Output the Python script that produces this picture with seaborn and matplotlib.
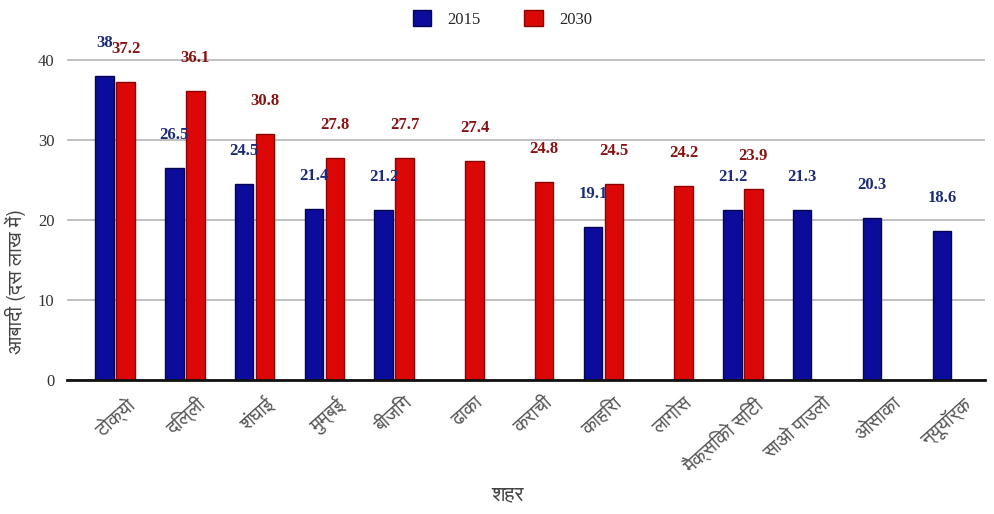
import numpy as np
import pandas as pd
import seaborn as sns
import matplotlib
matplotlib.use("Agg")
import matplotlib.pyplot as plt
from matplotlib import font_manager
from matplotlib.patches import Patch
from matplotlib.transforms import ScaledTranslation

# Cities and population (in millions) for 2015 and projected 2030
cities = ["टोक्यो", "दिल्ली", "शंघाई", "मुम्बई", "बीजिंग", "ढाका", "कराची",
          "काहिरा", "लागोस", "मैक्सिको सिटी", "साओ पाउलो", "ओसाका", "न्यूयॉर्क"]
pop_2015 = [38, 26.5, 24.5, 21.4, 21.2, np.nan, np.nan, 19.1, np.nan, 21.2, 21.3, 20.3, 18.6]
pop_2030 = [37.2, 36.1, 30.8, 27.8, 27.7, 27.4, 24.8, 24.5, 24.2, 23.9, np.nan, np.nan, np.nan]
years = ["2015", "2030"]
y_ticks = [0, 10, 20, 30, 40]
x_title = "शहर"
y_title = "आबादी (दस लाख में)"

bar_colors = {"2015": "#0c0c9c", "2030": "#dc0808"}
edge_colors = {"2015": "#05054f", "2030": "#8a0303"}
label_colors = {"2015": "#1b2b78", "2030": "#861212"}


def font_name(filename, fallback):
    for path in font_manager.findSystemFonts():
        if path.split("/")[-1] == filename:
            font_manager.fontManager.addfont(path)
            return font_manager.FontProperties(fname=path).get_name()
    return fallback


sns.set_style("white")
deva = font_name("FreeSans.ttf", "DejaVu Sans")
serif = ["Liberation Serif", "DejaVu Serif"]
text_fam = [deva, "DejaVu Sans"]
plt.rcParams["font.family"] = serif

df = pd.DataFrame({
    "city": cities * 2,
    "year": [years[0]] * len(cities) + [years[1]] * len(cities),
    "pop": pop_2015 + pop_2030,
})

fig = plt.figure(figsize=(9.95, 5.14), dpi=100)
ax = fig.add_axes([0.0673, 0.2607, 0.9227, 0.6613])

sns.barplot(data=df, x="city", y="pop", hue="year", hue_order=years, order=cities,
            palette=bar_colors, width=0.6, gap=0.12, ax=ax, legend=False,
            linewidth=1.0, saturation=1, errorbar=None)

for cont, yr in zip(ax.containers, years):
    for bar in cont:
        bar.set_edgecolor(edge_colors[yr])
    ax.bar_label(cont, fmt="%g", padding=18, color=label_colors[yr],
                 fontsize=12, fontweight="bold", family=serif)

ax.set_xlim(-0.69, 12.47)
ax.set_ylim(0, 42.5)
ax.set_yticks(y_ticks)
ax.yaxis.grid(True, color="#b5b5b5", linewidth=1.2)
ax.set_axisbelow(True)
for s in ["left", "right", "top"]:
    ax.spines[s].set_visible(False)
ax.spines["bottom"].set_color("#111111")
ax.spines["bottom"].set_linewidth(2)
ax.tick_params(axis="y", length=0, pad=9, labelsize=12, labelcolor="#333333")
ax.tick_params(axis="x", length=0, pad=10)
for t in ax.get_yticklabels():
    t.set_family(serif)
ax.set_xticks(range(len(cities)))
ax.set_xticklabels(cities, rotation=42, ha="right", rotation_mode="anchor",
                   fontsize=14, color="#555555", family=text_fam)
shift = ScaledTranslation(10 / 100, 0, fig.dpi_scale_trans)
for t in ax.get_xticklabels():
    t.set_transform(t.get_transform() + shift)

ax.set_xlabel(x_title, fontsize=15, color="#444444", family=text_fam)
ax.xaxis.set_label_coords(0.48, -0.31)
ax.set_ylabel(y_title, fontsize=14.5, color="#444444", family=text_fam)
ax.yaxis.set_label_coords(-0.045, 0.29)

handles = [Patch(facecolor=bar_colors[y], edgecolor=edge_colors[y]) for y in years]
fig.legend(handles, years, loc="upper center", bbox_to_anchor=(0.505, 1.01), ncol=2,
           frameon=False, handlelength=1.1, handleheight=1.1, columnspacing=2.6,
           handletextpad=1.0, prop={"family": serif, "size": 12})

fig.savefig("out.png", dpi=100)
